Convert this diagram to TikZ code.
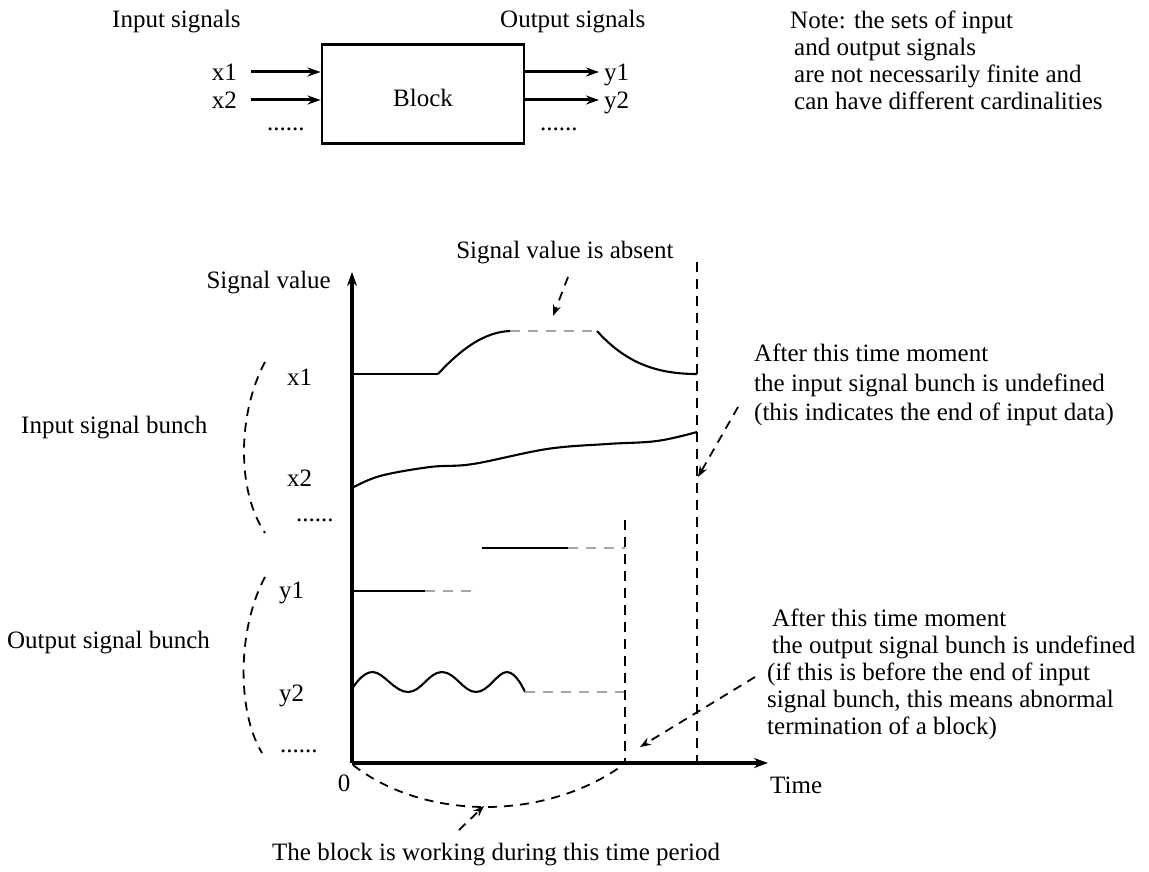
\documentclass[tikz,border=0pt]{standalone}
\usepackage{fontspec}
\setmainfont{Liberation Serif}
\usetikzlibrary{arrows.meta}
\begin{document}
\begin{tikzpicture}[x=1pt,y=-1pt,
  txt/.style={inner sep=0pt, font=\fontsize{25}{27}\selectfont},
  sig/.style={line width=2.1pt},
  flat/.style={line width=2.8pt},
  gapline/.style={line width=2.1pt, gray!70, dash pattern=on 10pt off 8pt},
  vdash/.style={line width=2.1pt, dash pattern=on 10pt off 7pt},
  ann/.style={line width=1.8pt, dash pattern=on 9pt off 7pt, -{Stealth[length=11pt,width=8pt]}},
  bra/.style={line width=1.8pt, dash pattern=on 9pt off 7pt},
  axis/.style={line width=4pt, -{Stealth[length=14pt,width=10pt]}},
  inarr/.style={line width=3pt, -{Stealth[length=13pt,width=9pt]}},
]
\useasboundingbox (0,0) rectangle (1149,872);

% ---------- top block diagram ----------
\node[txt, anchor=base west] (insig) at (112,28) {Input signals};
\node[txt, anchor=base west] (outsig) at (500,28) {Output signals};
\node[draw, line width=2.8pt, minimum width=202pt, minimum height=99pt,
      txt, text height=26pt, text depth=0pt] (blk) at (423,94) {Block};

\node[txt, anchor=base east] (lx1) at (237,81) {x1};
\node[txt, anchor=base east] (lx2) at (237,109) {x2};
\node[txt, anchor=base west] (ldots) at (267,131) {......};
\coordinate (a1) at (251,72);
\coordinate (a2) at (251,100);
\draw[inarr] (a1) -- (blk.west |- a1);
\draw[inarr] (a2) -- (blk.west |- a2);

\coordinate (b1) at (599,72);
\coordinate (b2) at (599,100);
\draw[inarr] (blk.east |- b1) -- (b1);
\draw[inarr] (blk.east |- b2) -- (b2);
\node[txt, anchor=base west] (ly1) at (604,81) {y1};
\node[txt, anchor=base west] (ly2) at (604,109) {y2};
\node[txt, anchor=base west] (rdots) at (540,131) {......};

\node[txt, anchor=north west, align=left] (note) at (790,11)
  {Note: the sets of input\\
   \hspace*{4pt}and output signals\\
   \hspace*{4pt}are not necessarily finite and\\
   \hspace*{4pt}can have different cardinalities};

% ---------- axes ----------
\coordinate (O) at (352,763);
\coordinate (ytip) at (352,272);
\coordinate (xtip) at (768,763);
\draw[axis] (O) -- (ytip);
\draw[axis] (O) -- (xtip);
\node[txt, anchor=base east] (sv) at (331,288) {Signal value};
\node[txt, anchor=base] (zero) at (344,791) {0};
\node[txt, anchor=base west] (time) at (770,793) {Time};

% ---------- input signals ----------
\draw[flat] (352,374) -- (438,374);
\draw[sig] (438,374) .. controls (462,348) and (485,332) .. (510,331);
\draw[gapline] (510,331) -- (597,331);
\draw[sig] (597,331) .. controls (625,362) and (655,374) .. (697,374);
\draw[sig] plot[smooth, tension=0.6] coordinates
  {(352,488) (380,476) (430,467) (473,464) (547,449) (607,444) (657,441) (697,432)};

\coordinate (inEndTop) at (697,262);
\coordinate (inEndBot) at (697,763);
\draw[vdash] (inEndTop) -- (inEndBot);

% ---------- output signals ----------
\draw[sig] (482,548) -- (568,548);
\draw[gapline] (568,548) -- (625,548);
\draw[sig] (352,591) -- (425,591);
\draw[gapline] (425,591) -- (479,591);
\draw[sig] plot[smooth, tension=0.7] coordinates
  {(352,689) (373,672) (408,692) (442,672) (476,692) (507,672) (525,692)};
\draw[gapline] (525,692) -- (625,692);

\coordinate (outEndTop) at (625,520);
\coordinate (outEndBot) at (625,763);
\draw[vdash] (outEndTop) -- (outEndBot);

% ---------- left labels ----------
\node[txt, anchor=base west] (tx1) at (287,385) {x1};
\node[txt, anchor=base west] (tx2) at (287,486) {x2};
\node[txt, anchor=base west] (tdx) at (296,521) {......};
\node[txt, anchor=base west] (ty1) at (279,598) {y1};
\node[txt, anchor=base west] (ty2) at (279,701) {y2};
\node[txt, anchor=base west] (tdy) at (280,752) {......};
\node[txt, anchor=base west] (isb) at (21,433) {Input signal bunch};
\node[txt, anchor=base west] (osb) at (7,648) {Output signal bunch};
\draw[bra] (265,362) .. controls (238,412) and (236,490) .. (265,533);
\draw[bra] (265,577) .. controls (238,627) and (236,710) .. (262,753);

% ---------- annotations ----------
\node[txt, anchor=base] (absent) at (565,258) {Signal value is absent};
\coordinate (absA) at (568,277);
\coordinate (absB) at (553,316);
\draw[ann] (absA) -- (absB);

\node[txt, anchor=north west, align=left, font=\fontsize{25}{29.5}\selectfont] (inann) at (754,344)
  {After this time moment\\
   the input signal bunch is undefined\\
   (this indicates the end of input data)};
\coordinate (inA) at (738,407);
\coordinate (inB) at (698,477);
\draw[ann] (inA) -- (inB);

\node[txt, anchor=north west, align=left] (outann) at (767,609)
  {\hspace*{5pt}After this time moment\\
   \hspace*{5pt}the output signal bunch is undefined\\
   (if this is before the end of input\\
   signal bunch, this means abnormal\\
   termination of a block)};
\coordinate (outA) at (755,677);
\coordinate (outB) at (640,747);
\draw[ann] (outA) -- (outB);

\draw[bra] (353,765) .. controls (425,821) and (545,821) .. (623,765);
\coordinate (wA) at (459,830);
\coordinate (wB) at (484,806);
\draw[ann] (wA) -- (wB);
\node[txt, anchor=base west] (working) at (272,860) {The block is working during this time period};
\end{tikzpicture}
\end{document}
